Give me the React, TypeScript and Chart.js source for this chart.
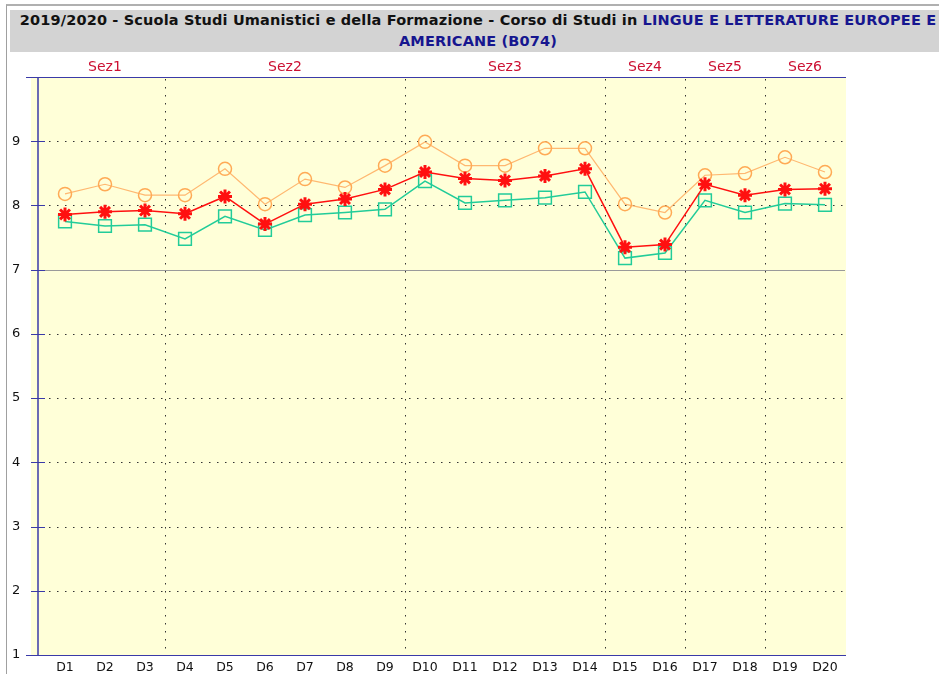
import React, { useEffect, useRef } from "react";
import { Chart, registerables } from "chart.js";

Chart.register(...registerables);

const categories = ["D1","D2","D3","D4","D5","D6","D7","D8","D9","D10","D11","D12","D13","D14","D15","D16","D17","D18","D19","D20"];
const seriesOrange = [8.18, 8.33, 8.16, 8.16, 8.57, 8.02, 8.41, 8.28, 8.62, 8.99, 8.62, 8.62, 8.89, 8.89, 8.02, 7.89, 8.47, 8.5, 8.75, 8.52];
const seriesRed = [7.86, 7.9, 7.92, 7.87, 8.14, 7.71, 8.02, 8.1, 8.25, 8.52, 8.42, 8.39, 8.46, 8.57, 7.35, 7.39, 8.33, 8.16, 8.25, 8.26];
const seriesGreen = [7.75, 7.68, 7.7, 7.48, 7.83, 7.62, 7.85, 7.89, 7.94, 8.38, 8.04, 8.08, 8.12, 8.21, 7.18, 7.26, 8.08, 7.89, 8.03, 8.01];
const sectionLabels = ["Sez1", "Sez2", "Sez3", "Sez4", "Sez5", "Sez6"];
const sectionStarts = [0, 3, 9, 14, 16, 18];
const sectionEnds = [2, 8, 13, 15, 17, 19];
const yTickValues = [1, 2, 3, 4, 5, 6, 7, 8, 9, 10];

const BLUE = "#3a3aa8";
const FONT = "'DejaVu Sans', Verdana, sans-serif";

const framePlugin = {
  id: "framePlugin",
  beforeDatasetsDraw(chart: any) {
    const { ctx, chartArea, scales } = chart;
    const { left, right, top, bottom } = chartArea;
    const x = scales.x;
    const y = scales.y;
    ctx.save();
    ctx.fillStyle = "#ffffd8";
    ctx.fillRect(left - 14, top, right + 1 - (left - 14), bottom - top);
    ctx.lineWidth = 1;
    for (const v of yTickValues) {
      if (v === 1 || v === 10) continue;
      const py = Math.round(y.getPixelForValue(v)) + 0.5;
      ctx.beginPath();
      if (v === 7) {
        ctx.setLineDash([]);
        ctx.strokeStyle = "#9a9a9a";
      } else {
        ctx.setLineDash([1.5, 6.5]);
        ctx.strokeStyle = "#333";
      }
      ctx.moveTo(left - 4, py);
      ctx.lineTo(right, py);
      ctx.stroke();
    }
    ctx.setLineDash([1.5, 6.5]);
    ctx.strokeStyle = "#333";
    for (let i = 1; i < sectionStarts.length; i++) {
      const a = x.getPixelForValue(sectionStarts[i] - 1);
      const b = x.getPixelForValue(sectionStarts[i]);
      const px = Math.round((a + b) / 2) + 0.5;
      ctx.beginPath();
      ctx.moveTo(px, top + 2);
      ctx.lineTo(px, bottom);
      ctx.stroke();
    }
    ctx.setLineDash([]);
    ctx.strokeStyle = BLUE;
    ctx.lineWidth = 1.5;
    const ax = left - 7;
    ctx.beginPath();
    ctx.moveTo(ax, top);
    ctx.lineTo(ax, bottom);
    ctx.stroke();
    ctx.lineWidth = 1;
    for (const v of yTickValues) {
      const py = Math.round(y.getPixelForValue(v)) + 0.5;
      ctx.beginPath();
      if (v === 1 || v === 10) {
        ctx.moveTo(left - 19, py);
        ctx.lineTo(right + 1, py);
      } else {
        ctx.moveTo(left - 14, py);
        ctx.lineTo(left, py);
      }
      ctx.stroke();
    }
    ctx.restore();
  },
  afterDraw(chart: any) {
    const { ctx, chartArea, scales } = chart;
    const x = scales.x;
    ctx.save();
    ctx.fillStyle = "#cc1133";
    ctx.font = "14px " + FONT;
    ctx.textAlign = "center";
    ctx.textBaseline = "middle";
    for (let i = 0; i < sectionLabels.length; i++) {
      const cx = (x.getPixelForValue(sectionStarts[i]) + x.getPixelForValue(sectionEnds[i])) / 2;
      ctx.fillText(sectionLabels[i], cx, chartArea.top - 10);
    }
    ctx.restore();
  },
};

export default function App() {
  const ref = useRef<HTMLCanvasElement | null>(null);

  useEffect(() => {
    if (!ref.current) return;
    const chart = new Chart(ref.current, {
      type: "line",
      data: {
        labels: categories,
        datasets: [
          {
            label: "red",
            data: seriesRed,
            borderColor: "#ff1010",
            backgroundColor: "#ff1010",
            borderWidth: 1.5,
            pointStyle: "star",
            pointRadius: 7,
            pointBorderWidth: 3,
            pointBorderColor: "#ff1010",
            tension: 0,
          },
          {
            label: "green",
            data: seriesGreen,
            borderColor: "#22cc99",
            backgroundColor: "transparent",
            borderWidth: 1.5,
            pointStyle: "rect",
            pointRadius: 9,
            pointBorderWidth: 1.5,
            pointBackgroundColor: "transparent",
            pointBorderColor: "#22cc99",
            tension: 0,
          },
          {
            label: "orange",
            data: seriesOrange,
            borderColor: "#ffb870",
            backgroundColor: "transparent",
            borderWidth: 1.2,
            pointStyle: "circle",
            pointRadius: 6.5,
            pointBorderWidth: 1.5,
            pointBackgroundColor: "transparent",
            pointBorderColor: "#ffaa55",
            tension: 0,
          },
        ],
      },
      options: {
        animation: false,
        responsive: false,
        maintainAspectRatio: false,
        devicePixelRatio: 1,
        layout: { padding: { left: 12, top: 77, right: 94, bottom: 0 } },
        plugins: { legend: { display: false }, tooltip: { enabled: false }, title: { display: false } },
        scales: {
          x: {
            type: "category",
            offset: true,
            grid: { display: false, drawTicks: false },
            border: { display: false },
            ticks: { color: "#111", font: { family: FONT, size: 12.5 }, padding: 5, maxRotation: 0, autoSkip: false },
            afterFit: (s: any) => { s.height = 19; },
          },
          y: {
            min: 1,
            max: 10,
            grid: { display: false, drawTicks: false },
            border: { display: false },
            ticks: {
              stepSize: 1,
              color: "#111",
              font: { family: FONT, size: 13 },
              padding: 0,
              crossAlign: "far",
              callback: (v: any) => (v === 10 ? "" : String(v)),
            },
            afterFit: (s: any) => { s.width = 33; },
          },
        },
      },
      plugins: [framePlugin],
    });
    return () => chart.destroy();
  }, []);

  return (
    <div style={{ position: "absolute", left: 0, top: 0, width: 939, height: 674, overflow: "hidden", background: "#fff" }}>
      <div style={{ position: "absolute", left: 6, top: 4, width: 960, height: 700, borderTop: "2px solid #b0b0b0", borderLeft: "1px solid #a0a0a0" }} />
      <canvas ref={ref} width={939} height={674} style={{ position: "absolute", left: 0, top: 0 }} />
      <div
        style={{
          position: "absolute",
          left: 10,
          top: 10,
          width: 936,
          height: 42,
          background: "#d3d3d3",
          fontFamily: FONT,
          fontWeight: "bold",
          fontSize: 14.5,
          letterSpacing: "0.15px",
          lineHeight: "21px",
          textAlign: "center",
          whiteSpace: "nowrap",
          color: "#111",
        }}
      >
        2019/2020 - Scuola Studi Umanistici e della Formazione - Corso di Studi in{" "}
        <span style={{ color: "#16168f" }}>LINGUE E LETTERATURE EUROPEE E</span>
        <br />
        <span style={{ color: "#16168f" }}>AMERICANE (B074)</span>
      </div>
    </div>
  );
}
